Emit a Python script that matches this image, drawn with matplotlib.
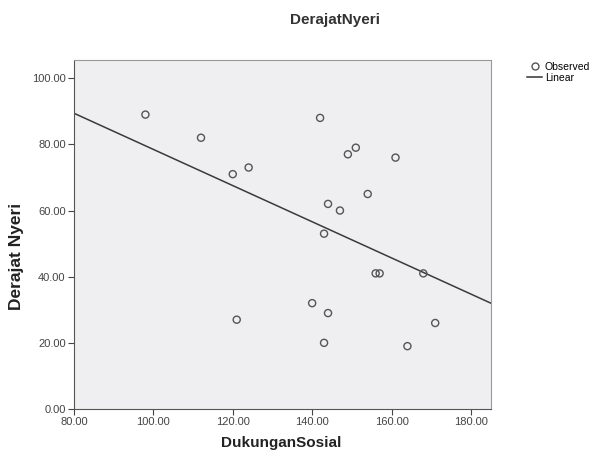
import matplotlib
matplotlib.use("Agg")
import matplotlib.pyplot as plt
import numpy as np
from matplotlib.lines import Line2D

plt.rcParams["font.family"] = ["Liberation Sans", "DejaVu Sans"]

dukungan_sosial = [98, 112, 120, 124, 121, 142, 149, 151, 161, 154, 144, 147,
                   143, 156, 157, 168, 140, 144, 143, 164, 171]
derajat_nyeri = [89, 82, 71, 73, 27, 88, 77, 79, 76, 65, 62, 60,
                 53, 41, 41, 41, 32, 29, 20, 19, 26]
x_ticks = [80, 100, 120, 140, 160, 180]
y_ticks = [0, 20, 40, 60, 80, 100]

x = np.array(dukungan_sosial, dtype=float)
y = np.array(derajat_nyeri, dtype=float)
slope, intercept = np.polyfit(x, y, 1)

fig = plt.figure(figsize=(5.98, 4.55), dpi=100)
ax = fig.add_axes([0.1237, 0.1011, 0.697, 0.767])
ax.set_facecolor("#EFEFF1")

xs = np.array([80, 185])
ax.plot(xs, intercept + slope * xs, color="#3a3a3a", lw=1.1)
ax.scatter(x, y, s=26, facecolors="none", edgecolors="#555555", linewidths=1.0, zorder=3)

ax.set_xlim(80, 185)
ax.set_ylim(0, 105.5)
ax.set_xticks(x_ticks)
ax.set_yticks(y_ticks)
ax.set_xticklabels([f"{v:.2f}" for v in x_ticks])
ax.set_yticklabels([f"{v:.2f}" for v in y_ticks])
ax.tick_params(labelsize=8, colors="#444444", length=4, direction="out", pad=2)
for side in ["top", "right"]:
    ax.spines[side].set_color("#999999")
for side in ["left", "bottom"]:
    ax.spines[side].set_color("#555555")

ax.set_xlabel("DukunganSosial", fontsize=11, fontweight="bold", color="#222222")
ax.xaxis.set_label_coords(0.496, -0.097)
ax.xaxis.label.set_va("center")
ax.set_ylabel("Derajat Nyeri", fontsize=12.5, fontweight="bold", color="#222222")
ax.yaxis.set_label_coords(-0.137, 0.436)
ax.yaxis.label.set_va("center")
fig.text(0.56, 0.956, "DerajatNyeri", ha="center", va="center", fontsize=11,
         fontweight="bold", color="#333333")

handles = [Line2D([], [], marker="o", ls="none", markerfacecolor="none",
                  markeredgecolor="#555555", markersize=5),
           Line2D([], [], color="#333333", lw=1.1)]
fig.legend(handles, ["Observed", "Linear"], loc="upper left",
           bbox_to_anchor=(0.873, 0.875), frameon=False, fontsize=7.5,
           handlelength=1.4, handletextpad=0.3, labelspacing=0.1, borderpad=0)

fig.savefig("out.png", dpi=100)
